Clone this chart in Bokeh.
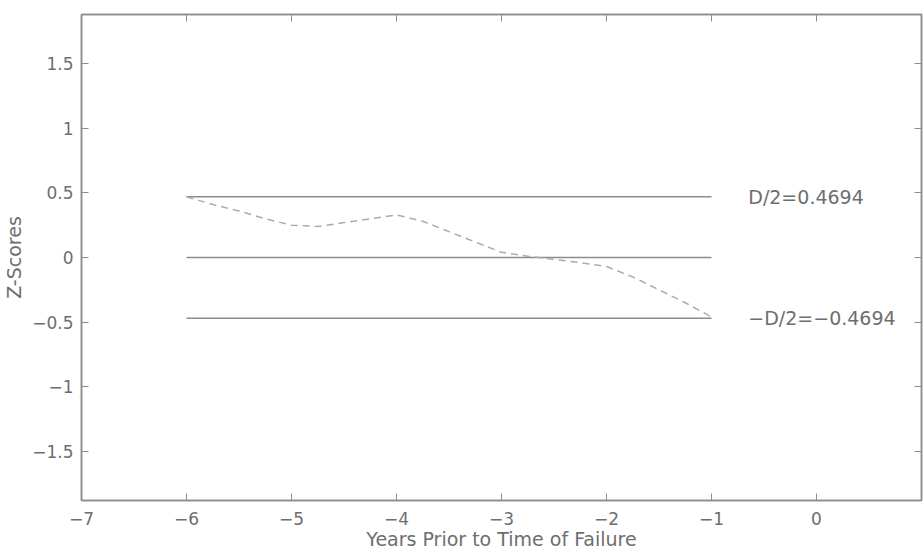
from bokeh.plotting import figure
from bokeh.models import Range1d, FixedTicker, LinearAxis, ColumnDataSource
from bokeh.core.properties import value
from bokeh.embed import file_html
from bokeh.resources import INLINE

# ---- data ----
x_ticks = [-7, -6, -5, -4, -3, -2, -1, 0]
x_tick_labels = ["−7", "−6", "−5", "−4", "−3", "−2", "−1", "0"]
y_ticks = [-1.5, -1, -0.5, 0, 0.5, 1, 1.5]
y_tick_labels = ["−1.5", "−1", "−0.5", "0", "0.5", "1", "1.5"]

years = [-6, -5.75, -5.5, -5.25, -5, -4.75, -4.5, -4.25, -4, -3.75, -3.5,
         -3.25, -3, -2.75, -2.5, -2.25, -2, -1.75, -1.5, -1.25, -1]
z_scores = [0.47, 0.41, 0.36, 0.30, 0.25, 0.24, 0.27, 0.30, 0.33, 0.28, 0.20,
            0.12, 0.04, 0.01, -0.015, -0.04, -0.07, -0.15, -0.25, -0.35, -0.46]

bound = 0.4694
bound_x = [-6, -1]
bound_levels = [bound, 0.0, -bound]
label_x = [-0.65, -0.65]
label_y = [bound, -bound]
label_texts = ["D/2=0.4694", "−D/2=−0.4694"]

FONT = "DejaVu Sans"
TXT = "#6e6e6e"
LINE = "#8c8c8c"

p = figure(width=924, height=553, x_range=Range1d(-7, 1), y_range=Range1d(-1.88, 1.88),
           output_backend="svg", toolbar_location=None,
           min_border_left=80, min_border_right=3, min_border_top=14, min_border_bottom=53)
p.grid.visible = False
p.outline_line_color = LINE
p.outline_line_width = 1.5
p.background_fill_color = "white"
p.border_fill_color = "white"

def style_axis(ax, ticks, labels, show_labels=True):
    ax.ticker = FixedTicker(ticks=ticks)
    ax.major_tick_in = 7
    ax.major_tick_out = 0
    ax.minor_tick_line_color = None
    ax.major_tick_line_color = LINE
    ax.axis_line_color = LINE
    ax.axis_line_width = 1.5
    if show_labels:
        ax.major_label_overrides = {t: l for t, l in zip(ticks, labels)}
        ax.major_label_text_font = FONT
        ax.major_label_text_font_size = "17px"
        ax.major_label_text_color = TXT
    else:
        ax.major_label_overrides = {t: "" for t in ticks}
        ax.major_label_text_font_size = "1px"
        ax.major_label_standoff = 0

style_axis(p.xaxis[0], x_ticks, x_tick_labels)
p.xaxis[0].major_label_standoff = 11
p.xaxis[0].axis_label = "Years Prior to Time of Failure"
p.xaxis[0].axis_label_standoff = 0

style_axis(p.yaxis[0], y_ticks, y_tick_labels)
p.yaxis[0].major_label_standoff = 8
p.yaxis[0].axis_label = "Z-Scores"
p.yaxis[0].axis_label_standoff = 4

for ax in (p.xaxis[0], p.yaxis[0]):
    ax.axis_label_text_font = FONT
    ax.axis_label_text_font_size = "19px"
    ax.axis_label_text_font_style = "normal"
    ax.axis_label_text_color = TXT

top = LinearAxis()
style_axis(top, x_ticks, x_tick_labels, show_labels=False)
p.add_layout(top, "above")
right = LinearAxis()
style_axis(right, y_ticks, y_tick_labels, show_labels=False)
p.add_layout(right, "right")

for lvl in bound_levels:
    p.line(bound_x, [lvl, lvl], line_color=LINE, line_width=1.5)

p.line(years, z_scores, line_color="#ababab", line_width=1.5, line_dash="7 5")

src = ColumnDataSource(dict(x=label_x, y=label_y, t=label_texts))
p.text(x="x", y="y", text="t", source=src, text_font=value(FONT), text_font_size="19px",
       text_color=TXT, text_align="left", text_baseline="middle")

open("out.html", "w").write(file_html(p, INLINE))
